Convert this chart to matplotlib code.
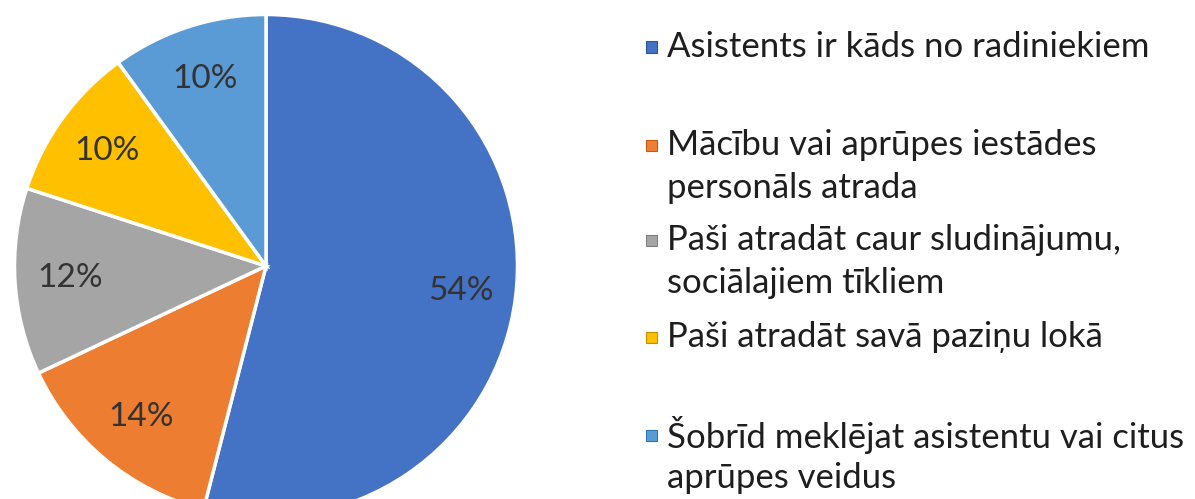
import matplotlib.pyplot as plt

plt.rcParams['font.family'] = ['Lato', 'DejaVu Sans']

# dati
labels = ["Asistents ir kāds no radiniekiem",
          "Mācību vai aprūpes iestādes\npersonāls atrada",
          "Paši atradāt caur sludinājumu,\nsociālajiem tīkliem",
          "Paši atradāt savā paziņu lokā",
          "Šobrīd meklējat asistentu vai citus\naprūpes veidus"]
values = [54, 14, 12, 10, 10]
colors = ["#4472C4", "#ED7D31", "#A5A5A5", "#FFC000", "#5B9BD5"]
edge_dark = ["#2F5597", "#C55A11", "#7F7F7F", "#BF9000", "#2E75B6"]

W, H = 1195, 499
fig = plt.figure(figsize=(W / 100, H / 100), dpi=100)

# pie axes: centre (266, 266) px from top, radius 254 px
cx, cy, r = 266, 266, 254
ax = fig.add_axes([(cx - r) / W, (H - cy - r) / H, 2 * r / W, 2 * r / H])
wedges, texts, autotexts = ax.pie(
    values, colors=colors, startangle=90, counterclock=False,
    autopct=lambda p: f"{p:.0f}%", pctdistance=0.78,
    wedgeprops=dict(edgecolor="white", linewidth=2.5),
    textprops=dict(fontsize=24, color="#333333"))
ax.set_xlim(-1.01, 1.01)
ax.set_ylim(-1.01, 1.01)
ax.set_aspect("equal")
ax.axis("off")

# legend drawn by hand (Excel style spacing)
leg_y = [47, 145, 240, 337, 435]   # y of first line, px from top
line_h = 43
for lab, col, dk, y in zip(labels, colors, edge_dark, leg_y):
    fig.patches.append(plt.Rectangle((646 / W, (H - y - 5.5) / H), 11 / W, 11 / H,
                                     transform=fig.transFigure, facecolor=col,
                                     edgecolor=dk, linewidth=0.8))
    for i, line in enumerate(lab.split("\n")):
        fig.text(667 / W, (H - y - i * line_h) / H, line, fontsize=25,
                 color="#1e1e1e", va="center", ha="left")

fig.savefig("out.png", dpi=100)
